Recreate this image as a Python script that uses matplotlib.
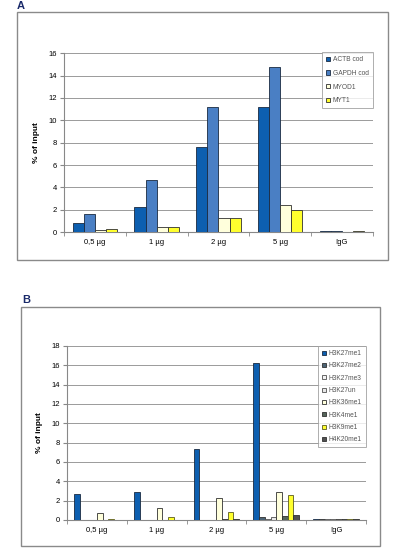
import numpy as np
import matplotlib
matplotlib.use("Agg")
import matplotlib.pyplot as plt
from matplotlib.patches import Rectangle

plt.rcParams['font.family'] = ['Liberation Sans', 'DejaVu Sans']

categories = ['0,5 µg', '1 µg', '2 µg', '5 µg', 'IgG']

# panel A
series_a = ['ACTB cod', 'GAPDH cod', 'MYOD1', 'MYT1']
actb = [0.82, 2.26, 7.62, 11.18, 0.07]
gapdh = [1.58, 4.65, 11.18, 14.78, 0.07]
myod1 = [0.17, 0.47, 1.3, 2.45, 0.03]
myt1 = [0.27, 0.46, 1.25, 2.02, 0.07]
colors_a = ['#0d5fb0', '#4a7fc4', '#ffffdc', '#ffff2e']
edges_a = ['#1a2a40', '#1a2a40', '#303030', '#303030']

# panel B
series_b = ['H3K27me1', 'H3K27me2', 'H3K27me3', 'H3K27un',
            'H3K36me1', 'H3K4me1', 'H3K9me1', 'H4K20me1']
h3k27me1 = [2.65, 2.9, 7.38, 16.28, 0.08]
h3k27me2 = [0.02, 0.02, 0.05, 0.28, 0.08]
h3k27me3 = [0.02, 0.02, 0.03, 0.08, 0.08]
h3k27un = [0.02, 0.02, 0.05, 0.3, 0.08]
h3k36me1 = [0.69, 1.24, 2.24, 2.9, 0.08]
h3k4me1 = [0.02, 0.02, 0.08, 0.4, 0.08]
h3k9me1 = [0.14, 0.3, 0.8, 2.62, 0.08]
h4k20me1 = [0.05, 0.05, 0.15, 0.48, 0.08]
colors_b = ['#0d5fb0', '#4d6475', '#f4f4f4', '#e8e8e8',
            '#ffffdc', '#55655a', '#ffff2e', '#505050']
edges_b = ['#1a2a40', '#303030', '#505050', '#505050',
           '#303030', '#303030', '#5a5a20', '#303030']


def draw_panel(fig, frame, axrect, data, names, colors, edges, ymax,
               letter, letter_pos, leg_anchor, spacing):
    fig.patches.append(Rectangle((frame[0], frame[1]), frame[2], frame[3],
                                 transform=fig.transFigure, fill=False,
                                 edgecolor='#8a8a8a', lw=1.0))
    fig.text(letter_pos[0], letter_pos[1], letter, fontsize=8,
             fontweight='bold', color='#1a2a6a', va='bottom')
    ax = fig.add_axes(axrect)
    n = len(data)
    x = np.arange(len(categories))
    w = 0.76 / n if n > 4 else 0.72 / n
    for i, vals in enumerate(data):
        ax.bar(x - w * n / 2 + w * (i + 0.5), vals, w, color=colors[i],
               edgecolor=edges[i], lw=0.6, label=names[i], zorder=3)
    ax.set_xlim(-0.5, len(categories) - 0.5)
    ax.set_ylim(0, ymax)
    ax.set_yticks(np.arange(0, ymax + 1, 2))
    ax.set_xticks(x)
    ax.set_xticklabels(categories)
    ax.set_xticks(np.arange(-0.5, len(categories), 1), minor=True)
    ax.tick_params(axis='x', which='major', length=0, labelsize=5.5, pad=5)
    ax.tick_params(axis='x', which='minor', length=3, color='#888888')
    ax.tick_params(axis='y', length=3, color='#888888', labelsize=5.5, pad=2)
    ax.grid(axis='y', color='#9a9a9a', lw=0.7, zorder=0)
    for s in ['top', 'right']:
        ax.spines[s].set_visible(False)
    for s in ['left', 'bottom']:
        ax.spines[s].set_color('#888888')
        ax.spines[s].set_linewidth(0.8)
    ax.spines['bottom'].set_zorder(2)
    ax.set_ylabel('% of input', fontsize=6, fontweight='bold', labelpad=6)
    leg = ax.legend(loc='upper right', bbox_to_anchor=leg_anchor,
                    fontsize=4.8, frameon=True, fancybox=False,
                    handlelength=0.6, handleheight=0.6, handletextpad=0.4,
                    borderpad=0.6, labelspacing=spacing, borderaxespad=0)
    leg.get_frame().set_edgecolor('#9a9a9a')
    leg.get_frame().set_linewidth(0.7)
    for t in leg.get_texts():
        t.set_color('#555555')
    return ax


fig = plt.figure(figsize=(3.96, 5.54), dpi=100)

draw_panel(fig, (0.043, 0.531, 0.937, 0.447),
           (0.1616, 0.581, 0.780, 0.323),
           [actb, gapdh, myod1, myt1], series_a, colors_a, edges_a, 16,
           'A', (0.043, 0.981), (1.0, 1.005), 1.0)

draw_panel(fig, (0.053, 0.0144, 0.907, 0.4316),
           (0.169, 0.0614, 0.755, 0.3141),
           [h3k27me1, h3k27me2, h3k27me3, h3k27un, h3k36me1, h3k4me1,
            h3k9me1, h4k20me1], series_b, colors_b, edges_b, 18,
           'B', (0.055, 0.449), (1.0, 1.0), 0.8)

fig.savefig('out.png', dpi=100, facecolor='white')
